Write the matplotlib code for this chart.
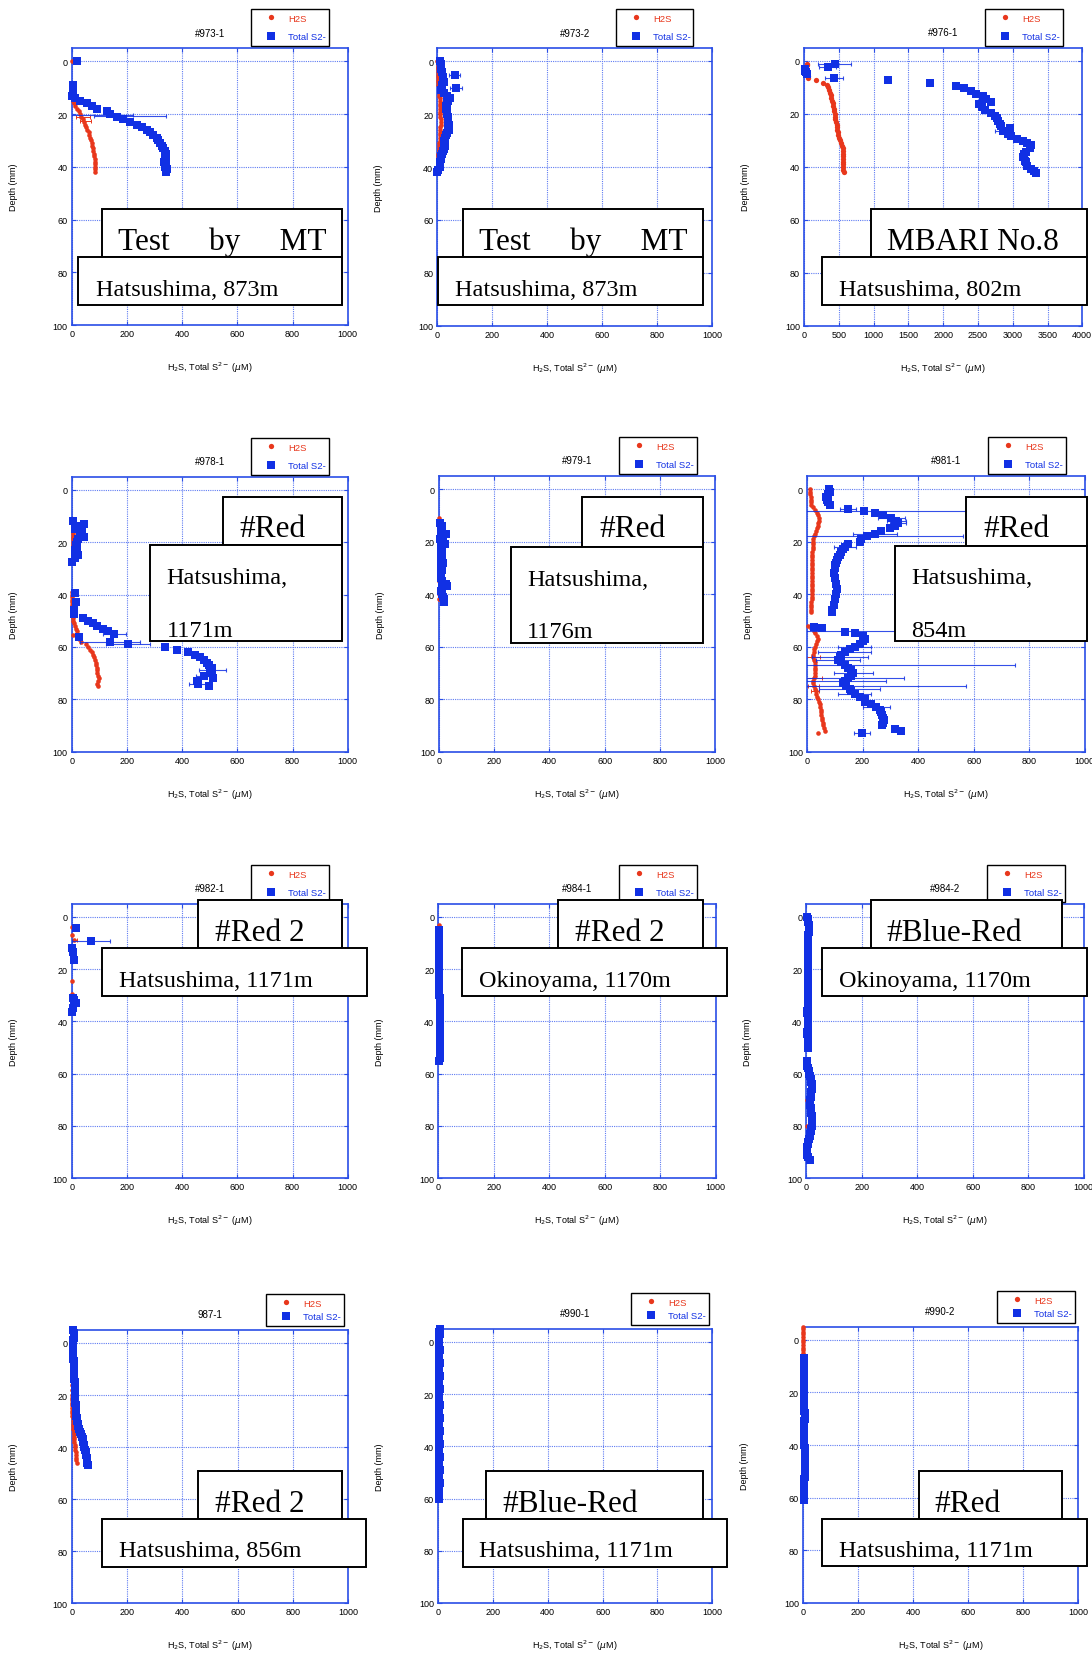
import matplotlib
matplotlib.use("Agg")
from matplotlib import pyplot as plt
from matplotlib.patches import Rectangle
from matplotlib.lines import Line2D

plt.rcParams["font.family"] = ["Liberation Sans", "DejaVu Sans"]

W, H = 1092, 1656
RED = "#e8371c"
BLUE = "#1130e4"
FRAME = "#2a4ee6"
GRID = "#5f7cf2"

# ---------------- text content ----------------
titles = ["#973-1", "#973-2", "#976-1", "#978-1", "#979-1", "#981-1",
          "#982-1", "#984-1", "#984-2", "987-1", "#990-1", "#990-2"]
tags = ["Test     by     MT", "Test     by     MT", "MBARI No.8",
        "#Red", "#Red", "#Red",
        "#Red 2", "#Red 2", "#Blue-Red",
        "#Red 2", "#Blue-Red", "#Red"]
sites = [["Hatsushima, 873m"], ["Hatsushima, 873m"], ["Hatsushima, 802m"],
         ["Hatsushima,", "1171m"], ["Hatsushima,", "1176m"], ["Hatsushima,", "854m"],
         ["Hatsushima, 1171m"], ["Okinoyama, 1170m"], ["Okinoyama, 1170m"],
         ["Hatsushima, 856m"], ["Hatsushima, 1171m"], ["Hatsushima, 1171m"]]
x_max = [1000, 1000, 4000, 1000, 1000, 1000, 1000, 1000, 1000, 1000, 1000, 1000]
x_step = [200, 200, 500, 200, 200, 200, 200, 200, 200, 200, 200, 200]
y_ticks = [0, 20, 40, 60, 80, 100]

# ---------------- data (depth mm, concentration uM) ----------------
# 973-1
h2s_973_1_depth = [0, 9, 12, 14, 15, 16, 17, 18, 19, 20, 21, 22, 23, 24, 25, 26, 27, 28, 29, 30,
                   31, 32, 33, 34, 35, 36, 37, 38, 39, 40, 41, 42]
h2s_973_1 = [0, 0, 2, 5, 6, 9, 12, 20, 25, 30, 35, 40, 44, 48, 53, 57, 61, 64, 67, 70,
             73, 75, 77, 78, 80, 82, 83, 84, 85, 86, 86, 86]
s2_973_1_depth = [0, 9, 10, 11, 12, 13, 14, 15, 16, 17, 18, 19, 20, 21, 22, 23, 24, 25, 26, 27,
                  28, 29, 30, 31, 32, 33, 34, 35, 36, 37, 38, 39, 40, 41, 42]
s2_973_1 = [20, 5, 5, 6, 4, 0, 12, 30, 54, 75, 90, 127, 139, 163, 187, 211, 235, 254, 272, 284,
            296, 308, 314, 320, 326, 332, 337, 340, 338, 340, 336, 342, 338, 344, 340]
s2_973_1_err = [(20.2, 110, 112), (20.8, 210, 130)]
h2s_973_1_err = [(21, 40, 25), (22.5, 50, 20)]

# 973-2
h2s_973_2_depth = [0, 1, 2, 3, 4, 5, 6, 7, 8, 9, 10, 11, 12, 13, 14, 15, 16, 17, 18, 19, 20,
                   21, 22, 23, 24, 25, 26, 27, 28, 29, 30, 31, 32, 33, 34, 35, 36, 37, 38, 39, 40]
h2s_973_2 = [0, 1, 2, 2, 2, 3, 3, 3, 4, 4, 5, 5, 6, 7, 8, 8, 9, 9, 10, 10, 11,
             11, 12, 12, 12, 11, 11, 10, 10, 9, 8, 7, 7, 6, 5, 4, 4, 3, 2, 1, 0]
s2_973_2_depth = [0, 1, 2, 3, 4, 5, 6, 7, 8, 9, 10, 10.5, 11, 12, 13, 14, 15, 16, 17, 18, 19, 20,
                  21, 22, 23, 24, 25, 26, 27, 28, 29, 30, 31, 32, 33, 34, 35, 36, 37, 38, 39,
                  40, 41, 42]
s2_973_2 = [10, 12, 12, 15, 18, 63, 22, 20, 24, 18, 67, 18, 14, 24, 35, 46, 40, 36, 32, 30, 34, 34,
            38, 39, 40, 41, 40, 42, 36, 30, 28, 24, 26, 27, 24, 22, 18, 15, 12, 10, 8,
            10, 2, 0]
s2_973_2_err = [(5, 63, 20), (10, 67, 22)]
h2s_973_2_err = []

# 976-1
h2s_976_1_depth = [1.0, 1.5, 2.5, 3.5, 4.5, 5.5, 6.3, 7.1, 8.3, 9.2, 10, 11, 12, 13, 14, 15, 16, 17,
                   18, 19, 20, 21, 22, 23, 24, 25, 26, 27, 28, 29, 30, 31, 32, 33, 34, 35, 36,
                   37, 38, 39, 40, 41, 42]
h2s_976_1 = [40, 50, 30, 40, 50, 55, 57, 177, 273, 335, 345, 360, 375, 385, 395, 405, 415, 420,
             425, 430, 440, 445, 450, 460, 470, 479, 480, 485, 490, 500, 512, 530, 550, 560, 562,
             560, 555, 555, 558, 560, 560, 565, 570]
s2_976_1_depth = [1.1, 2.3, 2.9, 3.6, 4.3, 5.0, 6.4, 7.3, 8.4, 9.5, 10.2, 11.5, 12.4, 13.2, 14.2,
                  15.5, 16.3, 17.4, 18.4, 19.5, 20.6, 21.6, 22.8, 23.7, 24.7, 25.2, 26.5, 27.5,
                  28.5, 29.4, 30.4, 30.9, 31.9, 32.9, 34.2, 35.1, 36.3, 37.6, 38.2, 39.5, 40.7,
                  41.7, 42.2]
s2_976_1 = [440, 345, 10, 20, 30, 40, 431, 1212, 1815, 2189, 2300, 2405, 2476, 2572, 2620,
            2692, 2510, 2558, 2606, 2692, 2740, 2769, 2788, 2812, 2836, 2955, 2860, 2931,
            2979, 3066, 3147, 3209, 3257, 3243, 3195, 3161, 3147, 3171, 3195, 3209, 3267,
            3305, 3339]
s2_976_1_err = [(1.1, 440, 240), (2.3, 340, 120), (6.4, 431, 130), (26.5, 2860, 110)]
h2s_976_1_err = []

# 978-1
h2s_978_1_depth = [16, 17, 18, 19, 20, 21, 22, 23, 24, 25, 26, 39, 40, 41, 42, 43, 44, 45, 46, 47,
                   48, 49, 50, 51, 52, 53, 54, 55.5, 56, 57, 58, 59, 60, 61, 62, 63, 64, 65, 66,
                   67, 68, 69, 70, 71, 72, 73, 74, 75]
h2s_978_1 = [6, 6, 6, 5, 4, 4, 4, 4, 4, 5, 6, 0, 0, 0, 0, 0, 0, 0, 2, 3,
             4, 5, 6, 9, 12, 15, 18, 4, 24, 28, 33, 52, 60, 66, 72, 78, 82, 85, 87,
             89, 91, 92, 93, 96, 99, 97, 93, 97]
s2_978_1_depth = [12, 13, 14, 15, 16, 17, 18, 19, 20, 21, 22, 23, 24, 25, 26, 27.5, 39.5, 43,
                  46, 47.5, 49, 50, 51, 52, 53, 54, 55, 56.4, 58, 59, 60, 61, 62, 63, 64, 65,
                  66, 67, 68, 69, 70, 71, 72, 73, 74, 75]
s2_978_1 = [6, 45, 16, 12, 36, 30, 46, 24, 20, 16, 18, 12, 20, 24, 12, 2, 12, 16,
            8, 8, 42, 60, 78, 91, 115, 133, 155, 28, 139, 205, 338, 380, 420, 447, 465, 480,
            489, 499, 507, 510, 501, 480, 513, 453, 459, 499]
s2_978_1_err = [(55, 155, 40), (58, 139, 108), (59, 205, 80), (69, 510, 50), (71, 480, 30),
                (74, 459, 35)]
h2s_978_1_err = []

# 979-1
h2s_979_1_depth = [11, 15, 20, 25, 30, 35, 40, 42]
h2s_979_1 = [0, 1, 2, 2, 2, 1, 0, 0]
s2_979_1_depth = [13, 14, 15, 16, 17, 18, 19, 20, 21, 22, 23, 24, 25, 26, 27, 28, 29, 30, 31, 32,
                  33, 34, 35, 36, 37, 38, 39, 40, 41, 42, 43]
s2_979_1 = [4, 12, 6, 12, 24, 6, 4, 16, 22, 8, 8, 12, 6, 8, 12, 16, 8, 6, 12, 8,
            6, 8, 12, 24, 30, 12, 8, 12, 16, 18, 18]
s2_979_1_err = []
h2s_979_1_err = []

# 981-1
h2s_981_1_depth = [0, 1, 2, 3, 4, 5, 6, 7, 8, 9, 10, 11, 12, 13, 14, 15, 16, 17, 18, 19, 20,
                   21, 22, 23, 24, 25, 26, 27, 28, 29, 30, 31, 32, 33, 34, 35, 36, 37, 38, 39,
                   40, 41, 42, 43, 44, 45, 46, 47,
                   52, 53, 54, 55, 56, 57, 58, 59, 60, 61, 62, 63, 64, 65, 66, 67, 68, 69, 70,
                   71, 72, 73, 74, 75, 76, 77, 78, 79, 80, 81, 82, 83, 84, 85, 86, 87, 88, 89,
                   90, 91, 92, 93]
h2s_981_1 = [12, 12, 12, 13, 13, 14, 16, 22, 30, 37, 40, 42, 42, 41, 40, 37, 34, 30, 25, 23, 22,
             21, 20, 20, 19, 19, 18, 18, 18, 18, 18, 18, 18, 18, 18, 18, 18, 18, 18, 17,
             17, 17, 17, 16, 16, 16, 16, 15,
             4, 16, 24, 30, 36, 40, 37, 34, 30, 27, 25, 22, 22, 25, 28, 30, 30, 30, 30,
             28, 25, 22, 22, 25, 28, 31, 34, 37, 40, 43, 46, 48, 49, 50, 52, 53, 55, 56,
             58, 60, 64, 40]
s2_981_1_depth = [0, 1, 2, 3, 4, 5, 6, 7.5, 8.5, 9, 10, 11, 12, 13, 14, 15, 16, 17, 18, 19, 20,
                  21, 22, 23, 24, 25, 26, 27, 28, 29, 30, 32, 34, 36, 38, 40, 42, 44, 46, 47,
                  52.5, 53, 54.5, 55, 56, 57, 58, 59, 60, 61, 62, 63, 64, 65, 66, 67, 68, 69,
                  70, 71, 72, 73, 74, 75, 76, 77, 78, 79, 80, 81, 82, 83, 84, 85, 86, 87, 88,
                  89, 90, 91.4, 92.3, 93]
s2_981_1 = [78, 82, 76, 70, 72, 76, 82, 148, 205, 244, 274, 304, 322, 328, 316, 298, 268, 244,
            217, 196, 190, 148, 136, 130, 124, 118, 112, 109, 106, 102, 100, 97, 102, 106, 109,
            106, 100, 97, 90, 90,
            24, 54, 136, 172, 202, 210, 202, 190, 172, 154, 136, 124, 118, 112, 124, 136, 148,
            160, 166, 160, 148, 136, 130, 142, 154, 160, 172, 190, 208, 208, 232, 250, 262,
            268, 270, 274, 277, 274, 270, 316, 340, 198]
s2_981_1_err = [(7.5, 148, 30), (8.5, 205, 420), (11, 304, 50), (12, 322, 35), (13, 328, 30),
                (17, 244, 80), (18, 230, 330), (22, 136, 40), (54, 136, 300), (60, 172, 60),
                (62, 136, 95), (64, 118, 100), (65, 112, 80), (67, 136, 614), (70, 166, 70),
                (72, 148, 200), (73, 136, 150), (75, 142, 430), (76, 154, 110), (78, 172, 60),
                (83, 250, 50), (93, 198, 30)]
h2s_981_1_err = [(64, 22, 25), (72, 25, 30), (75, 25, 20), (77, 30, 15)]

# 982-1
h2s_982_1_depth = [4, 7, 9, 13, 24.5, 29.5]
h2s_982_1 = [0, 0, 8, 0, 0, 0]
s2_982_1_depth = [4.5, 9.4, 12.1, 13.5, 16.6, 31, 32, 33, 35, 36.6]
s2_982_1 = [16, 70, 2, 3, 10, 4, 8, 15, 6, 2]
s2_982_1_err = [(9.4, 70, 70)]
h2s_982_1_err = [(9, 8, 12)]

# 984-1
h2s_984_1_depth = [3, 4, 5, 10, 20, 30, 40, 50]
h2s_984_1 = [2, 2, 2, 2, 2, 2, 2, 2]
s2_984_1_depth = [5, 6, 7, 8, 9, 10, 11, 12, 13, 14, 15, 16, 17, 18, 19, 20, 21, 22, 23, 24,
                  25, 26, 27, 28, 29, 30, 31, 32, 33, 34, 35, 36, 37, 38, 39, 40, 41, 42, 43,
                  44, 45, 46, 47, 48, 49, 50, 51, 52, 53, 54, 55]
s2_984_1 = [3, 3, 3, 3, 3, 3, 3, 4, 4, 4, 3, 3, 3, 3, 3, 3, 3, 4, 4, 4,
            3, 3, 3, 3, 4, 4, 5, 5, 5, 5, 6, 6, 6, 6, 5, 5, 6, 6, 6,
            6, 7, 7, 7, 6, 6, 6, 7, 6, 5, 5, 4]
s2_984_1_err = []
h2s_984_1_err = []

# 984-2
h2s_984_2_depth = [0, 10, 20, 30, 40, 50, 55, 60, 70, 80, 90]
h2s_984_2 = [3, 1, 1, 1, 1, 1, 1, 2, 2, 1, 1]
s2_984_2_depth = [0, 1, 2, 3, 4, 5, 6, 7, 8, 9, 10, 11, 12, 13, 14, 15, 16, 17, 18, 19, 20,
                  21, 22, 23, 24, 25, 26, 27, 28, 29, 30, 31, 32, 33, 34, 35, 36, 37, 38, 39,
                  40, 41, 42, 43, 44, 45, 46, 47, 48, 49, 50,
                  55, 56, 57, 58, 59, 60, 61, 62, 63, 64, 65, 66, 67, 68, 69, 70, 71, 72, 73,
                  74, 75, 76, 77, 78, 79, 80, 81, 82, 83, 84, 85, 86, 87, 88, 89, 90, 91, 92,
                  93]
s2_984_2 = [4, 6, 7, 8, 8, 8, 8, 7, 6, 5, 5, 5, 5, 5, 5, 5, 6, 7, 7, 6, 5,
            5, 5, 5, 5, 5, 5, 5, 5, 6, 6, 5, 5, 5, 5, 5, 4, 4, 5, 5,
            5, 5, 5, 5, 4, 4, 5, 5, 5, 5, 5,
            2, 2, 3, 5, 8, 11, 14, 16, 18, 19, 20, 19, 18, 17, 16, 15, 14, 15, 16,
            17, 18, 19, 20, 20, 20, 19, 18, 16, 15, 12, 10, 7, 5, 4, 3, 3, 3, 5,
            14]
s2_984_2_err = []
h2s_984_2_err = []

# 987-1
h2s_987_1_depth = [-1, 0, 2, 4, 6, 8, 10, 12, 14, 16, 18, 20, 21, 22, 23, 24, 25, 26, 27, 28, 29,
                   30, 31, 32, 33, 34, 35, 36, 37, 38, 39, 40, 41, 42, 43, 44, 45, 46]
h2s_987_1 = [0, 0, 0, 0, 0, 0, 0, 0, 0, 0, 0, 0, 0, 1, 1, 1, 1, 2, 2, 2, 3,
             4, 5, 6, 6, 7, 7, 8, 9, 10, 11, 12, 13, 14, 15, 16, 17, 18]
s2_987_1_depth = [-5, -4, -3, -2, -1, 0, 1, 2, 3, 4, 5, 6, 7, 8, 9, 10, 11, 12, 13, 14, 15, 16,
                  17, 18, 19, 20, 21, 22, 23, 24, 25, 26, 27, 28, 29, 30, 31, 32, 33, 34, 35,
                  36, 37, 38, 39, 40, 41, 42, 43, 44, 45, 46, 47]
s2_987_1 = [5, 7, 8, 10, 6, 5, 6, 6, 6, 6, 6, 6, 7, 7, 7, 8, 8, 9, 9, 10, 11, 12,
            12, 12, 12, 12, 12, 13, 13, 14, 15, 16, 16, 17, 18, 19, 21, 23, 26, 30, 33,
            36, 40, 42, 44, 46, 48, 50, 52, 54, 56, 57, 58]
s2_987_1_err = []
h2s_987_1_err = []

# 990-1
h2s_990_1_depth = [-5, 0, 10, 20, 30, 40, 50, 60]
h2s_990_1 = [2, 2, 2, 2, 2, 2, 2, 2]
s2_990_1_depth = [-5, -4, -3, -2, -1, 0, 1, 2, 3, 4, 5, 6, 7, 8, 9, 10, 11, 12, 13, 14, 15, 16,
                  17, 18, 19, 20, 21, 22, 23, 24, 25, 26, 27, 28, 29, 30, 31, 32, 33, 34, 35,
                  36, 37, 38, 39, 40, 41, 42, 43, 44, 45, 46, 47, 48, 49, 50, 51, 52, 53, 54,
                  55, 56, 57, 58, 59, 60]
s2_990_1 = [6, 5, 6, 5, 5, 4, 5, 5, 6, 5, 5, 4, 5, 6, 5, 4, 5, 5, 6, 5, 5, 4,
            5, 6, 5, 5, 5, 4, 5, 6, 5, 5, 4, 5, 6, 5, 5, 4, 5, 6, 5,
            5, 4, 5, 6, 5, 5, 4, 5, 6, 5, 5, 4, 5, 6, 5, 5, 4, 5, 6,
            5, 5, 4, 5, 5, 5]
s2_990_1_err = []
h2s_990_1_err = []

# 990-2
h2s_990_2_depth = [-5, -4, -3, -2, -1, 0, 1, 2, 3, 4, 5, 6]
h2s_990_2 = [1, 1, 1, 1, 1, 1, 1, 1, 1, 1, 1, 1]
s2_990_2_depth = [7, 8, 9, 10, 11, 12, 13, 14, 15, 16, 17, 18, 19, 20, 21, 22, 23, 24, 25, 26,
                  27, 28, 29, 30, 31, 32, 33, 34, 35, 36, 37, 38, 39, 40, 41, 42, 43, 44, 45,
                  46, 47, 48, 49, 50, 51, 52, 53, 54, 55, 56, 57, 58, 59, 60, 61]
s2_990_2 = [4, 4, 5, 5, 4, 4, 5, 5, 4, 4, 3, 3, 4, 4, 5, 5, 4, 4, 5, 5,
            5, 6, 8, 6, 5, 4, 4, 4, 5, 5, 4, 4, 5, 5, 6, 6, 6, 7, 7,
            7, 6, 6, 6, 6, 6, 6, 5, 5, 4, 4, 4, 4, 5, 5, 4]
s2_990_2_err = []
h2s_990_2_err = []

series = [
    (h2s_973_1_depth, h2s_973_1, s2_973_1_depth, s2_973_1, h2s_973_1_err, s2_973_1_err),
    (h2s_973_2_depth, h2s_973_2, s2_973_2_depth, s2_973_2, h2s_973_2_err, s2_973_2_err),
    (h2s_976_1_depth, h2s_976_1, s2_976_1_depth, s2_976_1, h2s_976_1_err, s2_976_1_err),
    (h2s_978_1_depth, h2s_978_1, s2_978_1_depth, s2_978_1, h2s_978_1_err, s2_978_1_err),
    (h2s_979_1_depth, h2s_979_1, s2_979_1_depth, s2_979_1, h2s_979_1_err, s2_979_1_err),
    (h2s_981_1_depth, h2s_981_1, s2_981_1_depth, s2_981_1, h2s_981_1_err, s2_981_1_err),
    (h2s_982_1_depth, h2s_982_1, s2_982_1_depth, s2_982_1, h2s_982_1_err, s2_982_1_err),
    (h2s_984_1_depth, h2s_984_1, s2_984_1_depth, s2_984_1, h2s_984_1_err, s2_984_1_err),
    (h2s_984_2_depth, h2s_984_2, s2_984_2_depth, s2_984_2, h2s_984_2_err, s2_984_2_err),
    (h2s_987_1_depth, h2s_987_1, s2_987_1_depth, s2_987_1, h2s_987_1_err, s2_987_1_err),
    (h2s_990_1_depth, h2s_990_1, s2_990_1_depth, s2_990_1, h2s_990_1_err, s2_990_1_err),
    (h2s_990_2_depth, h2s_990_2, s2_990_2_depth, s2_990_2, h2s_990_2_err, s2_990_2_err),
]

# ---------------- layout (pixels, top-left origin) ----------------
# axes: left, right, y of depth 0, y of depth 100
axes_px = [(71.7, 347.7, 62.3, 326.0), (437.3, 712.3, 62.3, 326.7), (804.0, 1082.3, 62.0, 326.7),
           (71.7, 347.7, 490.7, 752.7), (439.0, 715.0, 490.0, 752.7), (807.0, 1084.7, 490.0, 752.7),
           (71.7, 347.7, 917.7, 1179.3), (438.3, 715.7, 917.7, 1179.3), (806.3, 1083.7, 917.7, 1179.3),
           (71.7, 348.3, 1344.0, 1604.3), (438.0, 712.3, 1343.0, 1604.0), (803.0, 1078.0, 1340.7, 1604.0)]
legend_px = [(251, 10, 329, 47), (616, 10, 693, 47), (985, 10, 1063, 47),
             (251, 439, 329, 476), (619, 438, 697, 474), (988, 438, 1066, 474),
             (251, 866, 329, 903), (619, 866, 697, 903), (987, 866, 1065, 903),
             (266, 1295, 344, 1327), (631, 1294, 709, 1326), (997, 1292, 1075, 1323)]
tag_box = [(102, 210, 342, 258), (462.7, 210, 703, 257.7), (870.7, 210, 1087, 258),
           (222.7, 498.3, 342.3, 546), (582.3, 498.3, 703, 548.3), (966.3, 498.3, 1087, 546.7),
           (198.3, 901, 342.3, 949.3), (558.3, 901, 703, 949.3), (870.7, 901, 1062.3, 949.3),
           (198.3, 1472.3, 342.3, 1520), (486.3, 1472.3, 703, 1520), (918.7, 1471.7, 1062.3, 1520)]
tag_xy = [(118, 250), (479, 250), (887, 250),
          (239.3, 537), (599, 537.3), (983, 537.3),
          (215, 940.7), (575, 940.7), (886.3, 940.7),
          (215, 1511.7), (502.3, 1511.7), (934.7, 1511.7)]
site_box = [(78, 258, 342, 306), (438, 257.7, 703, 306), (822.3, 258, 1087, 306),
            (150.3, 546, 342.3, 642.3), (510.7, 548.3, 703, 644), (894.7, 546.7, 1087, 642.3),
            (102, 949.3, 366.7, 996.7), (462.3, 949.3, 726.7, 996.7), (822.3, 949.3, 1087, 996.7),
            (102, 1520, 366, 1567.7), (462.7, 1520, 726.7, 1567.7), (822.3, 1520, 1087, 1567.3)]
site_xy = [[(96, 296)], [(454.7, 296)], [(839, 296)],
           [(166.7, 584), (166.7, 636.7)], [(527.3, 585.7), (527.3, 638.3)],
           [(911.3, 584), (911.3, 636.7)],
           [(119, 986.7)], [(479, 986.7)], [(838.7, 986.7)],
           [(119, 1557.3)], [(479, 1557.3)], [(838.7, 1557.3)]]


def fx(x):
    return x / W


def fy(y):
    return 1 - y / H


def add_box(fig, box):
    l, t, r, b = box
    fig.add_artist(Rectangle((fx(l), fy(b)), (r - l) / W, (b - t) / H,
                             transform=fig.transFigure, facecolor="white",
                             edgecolor="black", linewidth=1.4, zorder=10))


fig = plt.figure(figsize=(W / 100, H / 100), dpi=100)

for i in range(12):
    left, right, y0, y100 = axes_px[i]
    top = y0 - 5 * (y100 - y0) / 100
    ax = fig.add_axes([fx(left), fy(y100), (right - left) / W, (y100 - top) / H])
    hd, hv, sd, sv, herr, serr = series[i]
    big = x_max[i] > 1000

    for d, v, e in herr:
        ax.errorbar([v], [d], xerr=[e], fmt="none", ecolor=RED, elinewidth=0.7,
                    capsize=1.5, capthick=0.7, zorder=2)
    ax.plot(hv, hd, "o", color=RED, ms=3.8 if big else 3.3, mew=0, zorder=3, clip_on=False)
    for d, v, e in serr:
        ax.errorbar([v], [d], xerr=[e], fmt="none", ecolor=BLUE, elinewidth=0.8,
                    capsize=1.5, capthick=0.8, alpha=0.85, zorder=4)
    ax.plot(sv, sd, "s", color=BLUE, ms=6.0 if big else 5.4, mew=0, zorder=5, clip_on=False)

    ax.set_xlim(0, x_max[i])
    ax.set_ylim(100, -5)
    ax.set_xticks(list(range(0, x_max[i] + 1, x_step[i])))
    ax.set_yticks(y_ticks)
    ax.grid(True, color=GRID, linestyle=(0, (1, 1)), linewidth=0.8)
    ax.set_axisbelow(True)
    for s in ax.spines.values():
        s.set_color(FRAME)
        s.set_linewidth(1.2)
    ax.tick_params(direction="in", length=3, width=0.8, color=FRAME, labelsize=6.5,
                   top=True, right=True, pad=3)

    ax.set_title(titles[i], fontsize=7, pad=9)
    h_px = y100 - top
    w_px = right - left
    ax.set_xlabel("H$_2$S, Total S$^{2-}$ ($\\mu$M)", fontsize=6.5)
    ax.xaxis.set_label_coords(0.5, -42 / h_px)
    ax.xaxis.label.set_va("center")
    ax.set_ylabel("Depth (mm)", fontsize=6.5)
    ax.yaxis.set_label_coords(-58.5 / w_px, 0.5)
    ax.yaxis.label.set_va("center")

    l, t, r, b = legend_px[i]
    bottom_row = i >= 9
    handles = [Line2D([], [], ls="none", marker="o", color=RED, ms=3.8, mew=0),
               Line2D([], [], ls="none", marker="s", color=BLUE, ms=6, mew=0)]
    leg = ax.legend(handles, ["H2S", "Total S2-"], loc="upper left",
                    bbox_to_anchor=(fx(l), fy(b), (r - l) / W, (b - t) / H),
                    bbox_transform=fig.transFigure, mode="expand", fontsize=6.8,
                    fancybox=False, edgecolor="black", framealpha=1,
                    borderpad=0.5, labelspacing=0.45 if bottom_row else 1.0,
                    handlelength=3.3, handletextpad=0.1, borderaxespad=0,
                    labelcolor=[RED, BLUE])
    leg.get_frame().set_linewidth(1.0)

    # annotation boxes
    add_box(fig, tag_box[i])
    add_box(fig, site_box[i])
    fig.text(fx(tag_xy[i][0]), fy(tag_xy[i][1]), tags[i], family="Liberation Serif",
             fontsize=22.5, va="baseline", ha="left", zorder=11)
    for txt, (x, y) in zip(sites[i], site_xy[i]):
        fig.text(fx(x), fy(y), txt, family="Liberation Serif", fontsize=17.5,
                 va="baseline", ha="left", zorder=11)

fig.savefig("out.png", dpi=100)
